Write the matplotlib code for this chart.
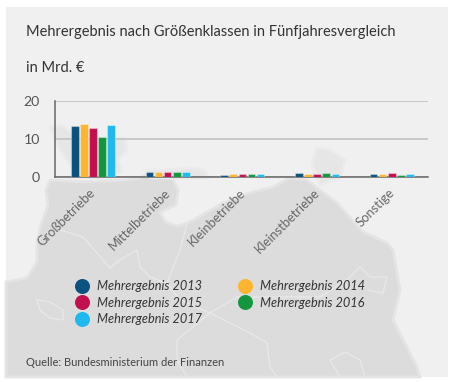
#!/usr/bin/env python3

import matplotlib
matplotlib.use('Agg')
import matplotlib.pyplot as plt
from matplotlib.lines import Line2D
from matplotlib.patches import Polygon, Rectangle

# data
categories = ['Großbetriebe', 'Mittelbetriebe', 'Kleinbetriebe', 'Kleinstbetriebe', 'Sonstige']
years = ['Mehrergebnis 2013', 'Mehrergebnis 2014', 'Mehrergebnis 2015', 'Mehrergebnis 2016', 'Mehrergebnis 2017']
v2013 = [13.3, 1.2, 0.6, 1.0, 0.7]
v2014 = [13.8, 1.2, 0.9, 0.9, 0.7]
v2015 = [12.7, 1.2, 0.8, 0.7, 1.0]
v2016 = [10.4, 1.2, 0.8, 1.1, 0.4]
v2017 = [13.5, 1.2, 0.8, 0.7, 0.7]
yticks = [0, 10, 20]
colors = ['#0b5280', '#fdb52f', '#c30f50', '#12973f', '#1fb9ef']

W, H = 457, 382
plt.rcParams['font.family'] = ['Lato', 'DejaVu Sans']
fig = plt.figure(figsize=(W / 100, H / 100), dpi=100, facecolor='white')


# background panel and the map, in pixel coordinates
bg = fig.add_axes([0, 0, 1, 1])
bg.set_xlim(0, W)
bg.set_ylim(H, 0)
bg.axis('off')
bg.add_patch(Rectangle((6, 7), 442, 370, color='#f0f0f0', lw=0))

main_land = [(6, 282), (16, 280), (27, 278), (37, 262), (37, 243), (40, 228), (48, 205), (46, 190), (50, 180),
             (85, 182), (125, 180), (140, 178), (150, 172), (168, 170), (178, 190), (176, 205), (160, 212),
             (165, 222), (178, 226), (190, 222), (223, 203), (250, 193), (273, 187), (290, 178),
             (307, 180), (320, 190), (337, 203), (363, 232), (387, 243), (393, 250), (400, 290), (393, 320),
             (417, 367), (420, 377), (6, 377)]
bg.add_patch(Polygon(main_land, fc='#dcdcdc', ec='#e4e4e4', lw=2))
north = [[(50, 127), (62, 125), (80, 140), (98, 140), (125, 138), (127, 150), (118, 160), (122, 172), (95, 180), (75, 172), (60, 150)],
         [(145, 170), (165, 170), (190, 168), (205, 170), (208, 178), (150, 178)],
         [(316, 148), (330, 150), (345, 160), (340, 178), (320, 185), (312, 165)]]
for p in north:
    bg.add_patch(Polygon(p, fc='#e6e6e6', ec='#ebebeb', lw=2))

borders = [[(60, 230), (83, 237), (97, 253), (110, 268), (120, 260), (137, 250), (140, 267), (150, 277), (167, 283), (180, 250), (187, 223)],
           [(37, 300), (50, 302), (63, 310), (63, 320), (50, 318), (40, 310), (37, 300)],
           [(360, 267), (347, 280), (320, 297), (280, 297), (237, 297), (210, 313), (250, 333), (267, 343), (270, 367), (277, 377)],
           [(360, 267), (370, 277), (387, 277), (383, 293), (368, 290)],
           [(210, 313), (177, 340), (177, 360), (187, 377)],
           [(340, 377), (330, 360), (345, 352), (360, 360), (365, 377)],
           [(167, 283), (180, 300), (210, 313)]]
for b in borders:
    bg.plot([p[0] for p in b], [p[1] for p in b], color='#e8e8e8', lw=1)


# chart axes
left, right, top, bottom = 54.5, 428, 100.5, 177
ax = fig.add_axes([left / W, 1 - bottom / H, (right - left) / W, (bottom - top) / H])
ax.patch.set_alpha(0)
ax.set_xlim(0, 5)
ax.set_ylim(0, 20)

series = [v2013, v2014, v2015, v2016, v2017]
bar_w = 0.122
for n, vals in enumerate(series):
    xs = [i + 0.515 + (n - 2) * bar_w for i in range(len(categories))]
    ax.bar(xs, vals, width=bar_w * 0.83, color=colors[n], edgecolor='#ffffff55', linewidth=0.8, zorder=3)

ax.set_yticks(yticks)
ax.set_yticklabels([str(t) for t in yticks], fontsize=10.2, color='#555555')
ax.set_xticks([i + 0.465 for i in range(len(categories))])
ax.set_xticklabels(categories, rotation=45, ha='right', rotation_mode='anchor', fontsize=9.3, color='#666666')
ax.tick_params(length=0, pad=7)
ax.tick_params(axis='y', pad=10.5)
ax.grid(axis='y', color='#c2c2c2', lw=1.2)
ax.set_axisbelow(True)
for s in ['top', 'right']:
    ax.spines[s].set_visible(False)
for s in ['left', 'bottom']:
    ax.spines[s].set_color('#666666')
    ax.spines[s].set_linewidth(1.1)


# legend: left column first
order = [0, 2, 4, 1, 3]
handles = [Line2D([], [], ls='', marker='o', ms=10.8, mfc=colors[i], mec='none', label=years[i]) for i in order]
leg = fig.legend(handles=handles, ncol=2, frameon=False, loc='upper left', bbox_to_anchor=(74 / W, 1 - 280 / H),
                 bbox_transform=fig.transFigure, borderaxespad=0, borderpad=0, handlelength=1.2, handletextpad=0.6,
                 columnspacing=2.75, labelspacing=0.36, prop={'family': 'Lato', 'style': 'italic', 'size': 9.2})
for t in leg.get_texts():
    t.set_color('#333333')


# texts
fig.text(26 / W, 1 - 32 / H, 'Mehrergebnis nach Größenklassen in Fünfjahresvergleich', fontsize=10.5, color='#333333', va='center')
fig.text(26 / W, 1 - 67.5 / H, 'in Mrd. €', fontsize=10.5, color='#333333', va='center')
fig.text(26 / W, 1 - 363 / H, 'Quelle: Bundesministerium der Finanzen', fontsize=8.05, color='#444444', va='center')

plt.savefig('out.png', dpi=100)
